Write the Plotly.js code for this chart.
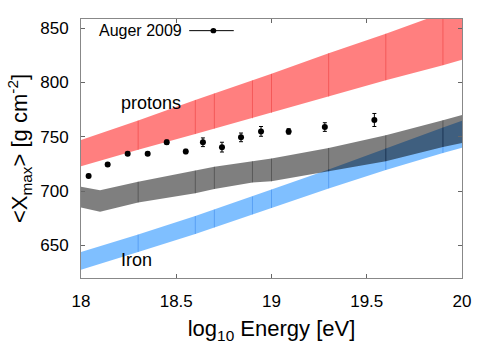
<!DOCTYPE html>
<html>
<head>
<meta charset="utf-8">
<script src="https://cdn.plot.ly/plotly-3.0.1.min.js"></script>
<style>html,body{margin:0;padding:0;background:#fff;}#chart{width:500px;height:361px;}</style>
</head>
<body>
<div id="chart"></div>
<script>
// Auger 2009 data points
var augerE   = [18.04, 18.14, 18.245, 18.35, 18.45, 18.55, 18.64, 18.74, 18.84, 18.945, 19.09, 19.28, 19.54];
var augerX   = [714, 724.5, 734.5, 734.5, 745, 736.5, 745, 740.5, 749.5, 755, 755, 759, 765.5];
var augerErr = [1.5, 1.5, 1.5, 1.5, 2, 2, 4, 4.5, 4, 4.5, 2.5, 4, 6];

// Protons band
var protonE  = [18, 18.3, 18.6, 18.7, 18.9, 19.0, 19.3, 19.6, 19.9, 20];
var protonHi = [747, 765, 784, 790, 802, 808, 827, 845, 864, 870];
var protonLo = [723, 738, 752.5, 757.5, 767, 772, 787, 802, 816, 821];

// Mixed (gray) band
var mixE  = [18, 18.1, 18.3, 18.6, 18.7, 18.9, 19.0, 19.3, 19.6, 19.9, 20];
var mixHi = [704, 700.7, 708.7, 719, 722.5, 727.5, 730, 739.8, 751.5, 765.3, 770.2];
var mixLo = [685, 681, 689.5, 698, 702, 708, 709, 718.2, 727.5, 740.7, 744.4];
var mixEdges = [18.3, 18.6, 18.7, 18.9, 19.0, 19.3, 19.6, 19.9];

// Iron band
var ironE  = [18, 18.3, 18.6, 18.7, 18.9, 19.0, 19.3, 19.6, 19.9, 20];
var ironHi = [644, 660, 677, 683, 695, 701.5, 720, 739.5, 758.5, 764.7];
var ironLo = [627.5, 644, 660.5, 666.5, 678.5, 684.5, 702.5, 719.5, 735, 740];

var xTicks = [18, 18.5, 19, 19.5, 20];
var yTicks = [650, 700, 750, 800, 850];

function band(E, hi, lo, color) {
  return {
    x: E.concat(E.slice().reverse()),
    y: hi.concat(lo.slice().reverse()),
    type: 'scatter', mode: 'lines', fill: 'toself',
    fillcolor: color, line: {width: 0, color: color},
    hoverinfo: 'skip', showlegend: false
  };
}
function edges(E, hi, lo, which, color) {
  var xs = [], ys = [];
  for (var i = 0; i < E.length; i++) {
    if (which.indexOf(E[i]) < 0) continue;
    xs.push(E[i], E[i], null);
    ys.push(lo[i], hi[i], null);
  }
  return {x: xs, y: ys, type: 'scatter', mode: 'lines',
    line: {width: 1, color: color}, hoverinfo: 'skip', showlegend: false};
}
var inner = [18.3, 18.6, 18.7, 18.9, 19.0, 19.3, 19.6, 19.9];

var traces = [
  band(protonE, protonHi, protonLo, 'rgba(255,0,0,0.5)'),
  edges(protonE, protonHi, protonLo, inner, 'rgba(220,0,0,0.3)'),
  band(ironE, ironHi, ironLo, 'rgba(0,127,255,0.5)'),
  edges(ironE, ironHi, ironLo, inner, 'rgba(0,90,220,0.3)'),
  band(mixE, mixHi, mixLo, 'rgba(0,0,0,0.5)'),
  edges(mixE, mixHi, mixLo, mixEdges, 'rgba(0,0,0,0.3)'),
  {
    x: augerE, y: augerX, type: 'scatter', mode: 'markers',
    marker: {color: '#000', size: 6},
    error_y: {type: 'data', array: augerErr, visible: true, color: '#000', thickness: 1, width: 2},
    showlegend: false, hoverinfo: 'skip'
  }
];

var font = 'Liberation Sans, Arial, Helvetica, sans-serif';
var layout = {
  width: 500, height: 361,
  margin: {l: 81, r: 38, t: 19, b: 83},
  paper_bgcolor: '#fff', plot_bgcolor: '#fff',
  showlegend: false,
  font: {family: font, color: '#000', size: 17},
  xaxis: {
    range: [18, 20], tickvals: xTicks, ticktext: xTicks.map(String),
    ticks: 'inside', ticklen: 4, tickcolor: '#666',
    showline: true, linecolor: '#888', linewidth: 1, mirror: 'ticks',
    showgrid: false, zeroline: false,
    tickfont: {size: 17, family: font}, ticklabelstandoff: 8,
    title: {text: 'log<sub>10</sub> Energy [eV]', font: {size: 22, family: font}, standoff: 10}
  },
  yaxis: {
    range: [620, 858.5], tickvals: yTicks, ticktext: yTicks.map(String),
    ticks: 'inside', ticklen: 4, tickcolor: '#666',
    showline: true, linecolor: '#888', linewidth: 1, mirror: 'ticks',
    showgrid: false, zeroline: false,
    tickfont: {size: 17, family: font}, ticklabelstandoff: 8,
    title: {text: '<X<sub>max</sub>> [g cm<sup>-2</sup>]', font: {size: 22, family: font}, standoff: 6}
  },
  annotations: [
    {x: 18.37, y: 781, xref: 'x', yref: 'y', text: 'protons', showarrow: false,
     font: {size: 18, family: font, color: '#000'}},
    {x: 18.29, y: 636.5, xref: 'x', yref: 'y', text: 'Iron', showarrow: false,
     font: {size: 18, family: font, color: '#000'}},
    {x: 0.27, y: 0.955, xref: 'paper', yref: 'paper', xanchor: 'right', yanchor: 'middle',
     text: 'Auger 2009', showarrow: false, font: {size: 16, family: font, color: '#000'}}
  ],
  shapes: [
    {type: 'line', xref: 'paper', yref: 'paper', x0: 0.284, x1: 0.401, y0: 0.955, y1: 0.955,
     line: {color: '#000', width: 1}},
    {type: 'circle', xref: 'paper', yref: 'paper', x0: 0.340, x1: 0.355, y0: 0.945, y1: 0.965,
     fillcolor: '#000', line: {color: '#000', width: 0}}
  ]
};

Plotly.newPlot('chart', traces, layout, {staticPlot: true, displayModeBar: false});
</script>
</body>
</html>
